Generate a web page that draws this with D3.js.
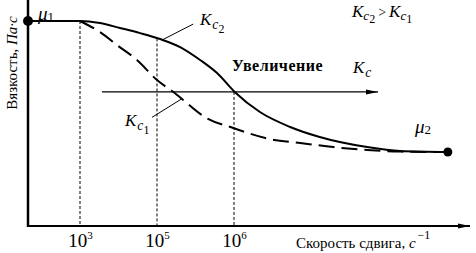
<!DOCTYPE html>
<html>
<head>
<meta charset="utf-8">
<script src="https://cdn.jsdelivr.net/npm/d3@7"></script>
<style>
  body { margin: 0; background: #fff; }
  svg { display: block; font-family: "Liberation Serif", "Times New Roman", serif; }
</style>
</head>
<body>
<div id="chart"></div>
<script>
// lg(скорость сдвига) и относительная вязкость (mu1 = 1)
const lgSolid  = [1, 3, 3.52, 4.04, 4.56, 5.04, 5.30, 5.56, 5.78, 6.01, 6.36, 6.78, 7.19, 7.85, 8.31, 8.97];
const etaSolid = [1, 1, 0.99, 0.966, 0.941, 0.912, 0.873, 0.81, 0.746, 0.654, 0.556, 0.483, 0.434, 0.385, 0.366, 0.361];

const lgDashed  = [3, 3.52, 3.96, 4.48, 5.0, 5.23, 5.34, 5.62, 5.99, 6.5, 6.92, 7.38, 7.85, 8.31, 8.97];
const etaDashed = [1, 0.946, 0.883, 0.81, 0.712, 0.649, 0.615, 0.532, 0.478, 0.424, 0.405, 0.385, 0.371, 0.363, 0.361];

// отметки на оси X (степени 10) и уровни вспомогательных линий
const tickLg  = [3, 5, 6];
const tickEta = [1, 0.915, 0.654];

const W = 476, H = 253;
const svg = d3.select("#chart").append("svg").attr("width", W).attr("height", H);

// схематичная ось: неравномерный шаг между 10^3, 10^5, 10^6
const x = d3.scaleLinear().domain([1, 3, 5, 6, 9]).range([28, 80, 157, 234, 450]);
const y = d3.scaleLinear().domain([0, 1]).range([226, 21]);

const defs = svg.append("defs");
defs.append("marker")
  .attr("id", "arr")
  .attr("markerUnits", "userSpaceOnUse")
  .attr("markerWidth", 12).attr("markerHeight", 6)
  .attr("refX", 12).attr("refY", 3)
  .attr("orient", "auto")
  .append("path").attr("d", "M0,0.5 L12,3 L0,5.5 Z").attr("fill", "#000");

// вспомогательные вертикали
svg.append("g").selectAll("line")
  .data(tickLg)
  .join("line")
  .attr("x1", d => x(d)).attr("x2", d => x(d))
  .attr("y1", (d, i) => y(tickEta[i])).attr("y2", y(0))
  .attr("stroke", "#000").attr("stroke-width", 1)
  .attr("stroke-dasharray", "3,2");

// оси
svg.append("line")
  .attr("x1", x(1)).attr("x2", 470).attr("y1", y(0)).attr("y2", y(0))
  .attr("stroke", "#000").attr("stroke-width", 2).attr("marker-end", "url(#arr)");
svg.append("line")
  .attr("x1", x(1)).attr("x2", x(1)).attr("y1", y(0) + 1).attr("y2", 0)
  .attr("stroke", "#000").attr("stroke-width", 2.5);

const xAxis = svg.append("g")
  .attr("transform", `translate(0,${y(0)})`)
  .call(d3.axisBottom(x).tickValues(tickLg).tickSize(0).tickFormat(() => ""));
xAxis.select(".domain").remove();
xAxis.selectAll(".tick text")
  .attr("y", 21).attr("dy", 0)
  .attr("font-family", "Liberation Serif, serif")
  .attr("font-size", 19).attr("fill", "#000")
  .each(function (d) {
    const t = d3.select(this);
    t.append("tspan").text("10");
    t.append("tspan").attr("font-size", 11).attr("dy", -8).text(d);
  });

// кривые
const line = d3.line()
  .x(d => x(d[0]))
  .y(d => y(d[1]))
  .curve(d3.curveMonotoneX);

svg.append("path")
  .datum(d3.zip(lgDashed, etaDashed))
  .attr("d", line)
  .attr("fill", "none").attr("stroke", "#000").attr("stroke-width", 2)
  .attr("stroke-dasharray", "16,7");

svg.append("path")
  .datum(d3.zip(lgSolid, etaSolid))
  .attr("d", line)
  .attr("fill", "none").attr("stroke", "#000").attr("stroke-width", 2);

// точки mu1, mu2
svg.append("circle").attr("cx", x(lgSolid[0])).attr("cy", y(etaSolid[0])).attr("r", 5);
svg.append("circle").attr("cx", x(lgSolid[lgSolid.length - 1])).attr("cy", y(etaSolid[etaSolid.length - 1])).attr("r", 4.5);

// стрелка «Увеличение Kc»
svg.append("line")
  .attr("x1", x(3.57)).attr("x2", x(8.0))
  .attr("y1", y(0.654)).attr("y2", y(0.654))
  .attr("stroke", "#000").attr("stroke-width", 1.2).attr("marker-end", "url(#arr)");

// выноски
svg.append("line")
  .attr("x1", x(5.08)).attr("y1", y(0.91)).attr("x2", x(5.47)).attr("y2", y(0.985))
  .attr("stroke", "#000").attr("stroke-width", 1);
svg.append("line")
  .attr("x1", x(5.32)).attr("y1", y(0.62)).attr("x2", x(4.87)).attr("y2", y(0.53))
  .attr("stroke", "#000").attr("stroke-width", 1);

// подписи
function kLabel(px, py, sub, size) {
  const t = svg.append("text").attr("x", px).attr("y", py)
    .attr("font-size", size).attr("font-style", "italic");
  t.append("tspan").text("K");
  t.append("tspan").attr("font-size", size * 0.8).attr("dy", 4).attr("dx", 1).text("c");
  if (sub) t.append("tspan").attr("font-size", size * 0.7).attr("font-style", "normal").attr("dy", 4).text(sub);
  return t;
}

kLabel(200, 25, "2", 17);
kLabel(125, 126, "1", 17);
kLabel(353, 73, null, 17);

// Kc2 > Kc1
(function () {
  const t = svg.append("text").attr("x", 352).attr("y", 17).attr("font-size", 17).attr("font-style", "italic");
  t.append("tspan").text("K");
  t.append("tspan").attr("font-size", 13).attr("dy", 3).text("c");
  t.append("tspan").attr("font-size", 12).attr("font-style", "normal").attr("dy", 3).text("2");
  t.append("tspan").attr("font-style", "normal").attr("font-size", 14).attr("dy", -6).attr("dx", 3).text(">");
  t.append("tspan").attr("dx", 3).text("K");
  t.append("tspan").attr("font-size", 13).attr("dy", 3).text("c");
  t.append("tspan").attr("font-size", 12).attr("font-style", "normal").attr("dy", 3).text("1");
})();

svg.append("text").attr("x", 232).attr("y", 71)
  .attr("font-size", 16).attr("font-weight", "bold").attr("letter-spacing", 0.5)
  .text("Увеличение");

// mu1, mu2
const mu1 = svg.append("text").attr("x", 38).attr("y", 20).attr("font-size", 19).attr("font-style", "italic");
mu1.append("tspan").text("μ");
mu1.append("tspan").attr("font-size", 13).attr("font-style", "normal").attr("dy", 1).text("1");
const mu2 = svg.append("text").attr("x", 415).attr("y", 133).attr("font-size", 19).attr("font-style", "italic");
mu2.append("tspan").text("μ");
mu2.append("tspan").attr("font-size", 13).attr("font-style", "normal").attr("dy", 1).text("2");

// подписи осей
const yl = svg.append("text")
  .attr("transform", "translate(17,63) rotate(-90)")
  .attr("text-anchor", "middle").attr("font-size", 15);
yl.append("tspan").text("Вязкость, ");
yl.append("tspan").attr("font-style", "italic").text("Па·с");

const xl = svg.append("text").attr("x", 296).attr("y", 248).attr("font-size", 15);
xl.append("tspan").text("Скорость сдвига, ");
xl.append("tspan").attr("font-style", "italic").text("с");
xl.append("tspan").attr("font-size", 12).attr("dy", -9).attr("dx", 2).text("−1");
</script>
</body>
</html>
